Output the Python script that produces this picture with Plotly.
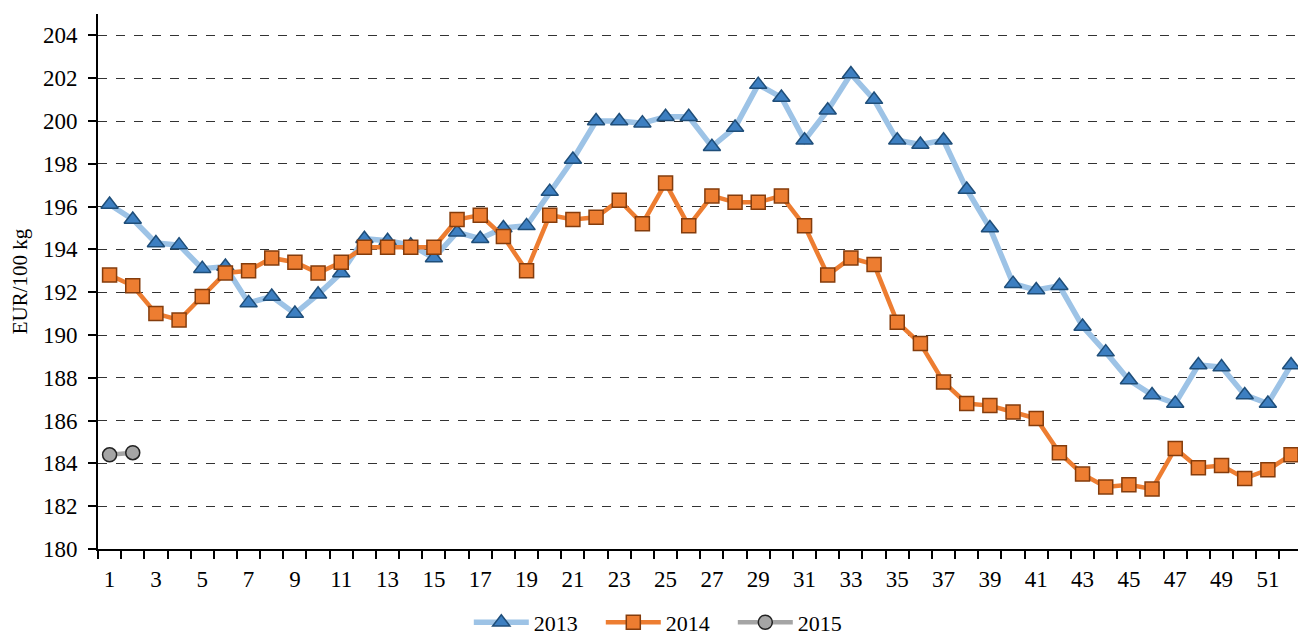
import plotly.graph_objects as go

weeks = list(range(1, 53))
y2013 = [196.1, 195.4, 194.3, 194.2, 193.1, 193.2, 191.5, 191.8, 191.0, 191.9,
         192.9, 194.5, 194.4, 194.2, 193.6, 194.8, 194.5, 195.0, 195.1, 196.7,
         198.2, 200.0, 200.0, 199.9, 200.2, 200.2, 198.8, 199.7, 201.7, 201.1,
         199.1, 200.5, 202.2, 201.0, 199.1, 198.9, 199.1, 196.8, 195.0, 192.4,
         192.1, 192.3, 190.4, 189.2, 187.9, 187.2, 186.8, 188.6, 188.5, 187.2,
         186.8, 188.6]
y2014 = [192.8, 192.3, 191.0, 190.7, 191.8, 192.9, 193.0, 193.6, 193.4, 192.9,
         193.4, 194.1, 194.1, 194.1, 194.1, 195.4, 195.6, 194.6, 193.0, 195.6,
         195.4, 195.5, 196.3, 195.2, 197.1, 195.1, 196.5, 196.2, 196.2, 196.5,
         195.1, 192.8, 193.6, 193.3, 190.6, 189.6, 187.8, 186.8, 186.7, 186.4,
         186.1, 184.5, 183.5, 182.9, 183.0, 182.8, 184.7, 183.8, 183.9, 183.3,
         183.7, 184.4]
y2015 = [184.4, 184.5]
weeks2015 = [1, 2]

x_labels = list(range(1, 53, 2))
y_ticks = list(range(180, 205, 2))

fig = go.Figure()
fig.add_trace(go.Scatter(
    x=weeks, y=y2013, name="2013", mode="lines+markers",
    line=dict(color="#9DC3E6", width=5.5),
    marker=dict(symbol="triangle-up", size=15, color="#3D7FC1",
                line=dict(color="#1F4E79", width=1.5))))
fig.add_trace(go.Scatter(
    x=weeks, y=y2014, name="2014", mode="lines+markers",
    line=dict(color="#ED7D31", width=4.5),
    marker=dict(symbol="square", size=14, color="#ED7D31",
                line=dict(color="#843C0C", width=1.5))))
fig.add_trace(go.Scatter(
    x=weeks2015, y=y2015, name="2015", mode="lines+markers",
    line=dict(color="#A5A5A5", width=4.5),
    marker=dict(symbol="circle", size=14, color="#A5A5A5",
                line=dict(color="#222222", width=1.5))))

font_family = "Liberation Serif"
fig.update_layout(
    width=1298, height=640,
    margin=dict(l=98, r=0, t=14, b=91, autoexpand=False),
    paper_bgcolor="white", plot_bgcolor="white",
    font=dict(family=font_family, size=22, color="black"),
    showlegend=True,
    legend=dict(orientation="h", x=0.309, xanchor="left", y=-0.098, yanchor="top",
                font=dict(family=font_family, size=22),
                itemwidth=55, entrywidth=62,
                traceorder="normal"),
)
fig.update_xaxes(
    range=[0.5, 52.3], automargin=False,
    tickmode="array", tickvals=x_labels, ticktext=[str(v) for v in x_labels],
    ticks="outside", ticklen=8, tickcolor="rgba(0,0,0,0)", ticklabelstandoff=0,
    showgrid=False, zeroline=False,
    showline=True, linecolor="black", linewidth=2,
    tickfont=dict(family=font_family, size=23),
    minor=dict(tickmode="array", tickvals=[v + 0.5 for v in range(0, 53)],
               ticks="outside", ticklen=8, tickwidth=2, tickcolor="black",
               showgrid=False),
)
fig.update_yaxes(
    range=[180, 205], automargin=False,
    tickmode="array", tickvals=y_ticks, ticktext=[str(v) for v in y_ticks],
    ticks="outside", ticklen=8, tickwidth=2, tickcolor="black", ticklabelstandoff=6,
    showline=True, linecolor="black", linewidth=2,
    showgrid=True, gridcolor="#333333", gridwidth=1, griddash="dash",
    zeroline=False,
    tickfont=dict(family=font_family, size=23),
    title=dict(text="EUR/100 kg", font=dict(family=font_family, size=21), standoff=10),
)
fig.write_html("out.html",
               config={"displayModeBar": False},
               post_script="document.body.style.margin='0';document.body.style.overflow='hidden';")
